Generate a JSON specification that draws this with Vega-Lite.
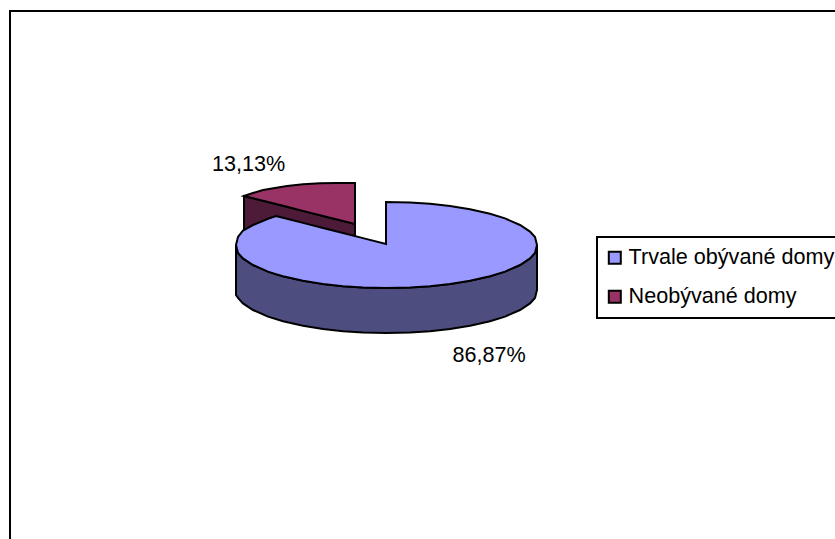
{
"$schema":"https://vega.github.io/schema/vega-lite/v6.json",
"width":835,"height":539,"padding":0,"autosize":{"type":"none"},
"background":"white",
"config":{"view":{"stroke":null},"font":"Liberation Sans"},
"datasets":{
"frame":[{"x":10,"y":539,"o":1},{"x":10,"y":11,"o":2},{"x":835,"y":11,"o":3}],
"maroonSide":[{"x":244,"y":196,"y2":232},{"x":355,"y":224,"y2":236}],
"maroonTop":[{"series":"Neobývané domy","x":244,"y":196,"y2":196},{"series":"Neobývané domy","x":253,"y":193,"y2":198.3},{"series":"Neobývané domy","x":263,"y":190,"y2":200.8},{"series":"Neobývané domy","x":275,"y":188,"y2":203.8},{"series":"Neobývané domy","x":287,"y":186,"y2":206.8},{"series":"Neobývané domy","x":303,"y":184.3,"y2":210.9},{"series":"Neobývané domy","x":320,"y":183.3,"y2":215.2},{"series":"Neobývané domy","x":337,"y":183,"y2":219.5},{"series":"Neobývané domy","x":355,"y":183,"y2":224}],
"blueSide":[{"x":236,"y":245,"y2":295},{"x":238,"y":253,"y2":298},{"x":243,"y":258.4,"y2":303.4},{"x":253,"y":265,"y2":310},{"x":268,"y":271.6,"y2":316.6},{"x":283,"y":276.3,"y2":321.3},{"x":303,"y":280.8,"y2":325.8},{"x":323,"y":284,"y2":329},{"x":343,"y":286.2,"y2":331.2},{"x":363,"y":287.5,"y2":332.5},{"x":386,"y":288,"y2":333},{"x":410,"y":287.5,"y2":332.5},{"x":430,"y":286.2,"y2":331.2},{"x":450,"y":284,"y2":329},{"x":470,"y":280.8,"y2":325.8},{"x":490,"y":276.3,"y2":321.3},{"x":505,"y":271.6,"y2":316.6},{"x":520,"y":265,"y2":310},{"x":530,"y":258.4,"y2":303.4},{"x":535,"y":253,"y2":298},{"x":537,"y":245,"y2":290}],
"blueTop":[{"series":"Trvale obývané domy","x":236,"y":245,"y2":245},{"series":"Trvale obývané domy","x":238,"y":237,"y2":253},{"series":"Trvale obývané domy","x":243,"y":230.5,"y2":258.4},{"series":"Trvale obývané domy","x":253,"y":225,"y2":265},{"series":"Trvale obývané domy","x":268,"y":218.8,"y2":271.6},{"series":"Trvale obývané domy","x":276,"y":216,"y2":274.3},{"series":"Trvale obývané domy","x":283,"y":217.8,"y2":276.3},{"series":"Trvale obývané domy","x":303,"y":222.9,"y2":280.8},{"series":"Trvale obývané domy","x":323,"y":228,"y2":284},{"series":"Trvale obývané domy","x":343,"y":233,"y2":286.2},{"series":"Trvale obývané domy","x":363,"y":238.1,"y2":287.5},{"series":"Trvale obývané domy","x":386,"y":244,"y2":288},{"series":"Trvale obývané domy","x":386.01,"y":202,"y2":288},{"series":"Trvale obývané domy","x":410,"y":202.5,"y2":287.5},{"series":"Trvale obývané domy","x":430,"y":203.8,"y2":286.2},{"series":"Trvale obývané domy","x":450,"y":206,"y2":284},{"series":"Trvale obývané domy","x":470,"y":209.2,"y2":280.8},{"series":"Trvale obývané domy","x":490,"y":213.7,"y2":276.3},{"series":"Trvale obývané domy","x":505,"y":218.4,"y2":271.6},{"series":"Trvale obývané domy","x":520,"y":225,"y2":265},{"series":"Trvale obývané domy","x":530,"y":231.6,"y2":258.4},{"series":"Trvale obývané domy","x":535,"y":237,"y2":253},{"series":"Trvale obývané domy","x":537,"y":245,"y2":245}],
"labels":[{"label":"13,13%","x":248.5,"y":165},{"label":"86,87%","x":489,"y":356}]
},
"encoding":{
"x":{"field":"x","type":"quantitative","scale":{"domain":[0,835],"nice":false,"zero":false},"axis":null},
"y":{"field":"y","type":"quantitative","scale":{"domain":[539,0],"nice":false,"zero":false},"axis":null}
},
"layer":[
{"data":{"name":"frame"},"mark":{"type":"line","stroke":"black","strokeWidth":2,"clip":false},"encoding":{"order":{"field":"o"}}},
{"data":{"name":"maroonSide"},"mark":{"type":"area","fill":"#4D1A38","stroke":"black","strokeWidth":2},"encoding":{"y2":{"field":"y2"}}},
{"data":{"name":"maroonTop"},"mark":{"type":"area","stroke":"black","strokeWidth":2,"opacity":1},"encoding":{"y2":{"field":"y2"},"color":{"field":"series","type":"nominal","scale":{"domain":["Trvale obývané domy","Neobývané domy"],"range":["#9999FF","#993366"]},"legend":{"orient":"none","legendX":597,"legendY":237,"title":null,"fillColor":"white","strokeColor":"black","padding":10,"symbolType":"square","symbolSize":144,"symbolStrokeColor":"black","symbolStrokeWidth":2,"symbolOpacity":1,"symbolOffset":-3,"labelFont":"Liberation Sans","labelFontSize":21.6,"labelColor":"black","labelLimit":400,"labelOffset":3,"rowPadding":16,"encode":{"legend":{"update":{"strokeWidth":{"value":2}}}}}}}},
{"data":{"name":"blueSide"},"mark":{"type":"area","fill":"#4D4D80","stroke":"black","strokeWidth":2},"encoding":{"y2":{"field":"y2"}}},
{"data":{"name":"blueTop"},"mark":{"type":"area","stroke":"black","strokeWidth":2,"opacity":1},"encoding":{"y2":{"field":"y2"},"color":{"field":"series","type":"nominal"}}},
{"data":{"name":"labels"},"mark":{"type":"text","font":"Liberation Sans","fontSize":21.6,"color":"black","align":"center","baseline":"middle"},"encoding":{"text":{"field":"label"}}}
]
}
